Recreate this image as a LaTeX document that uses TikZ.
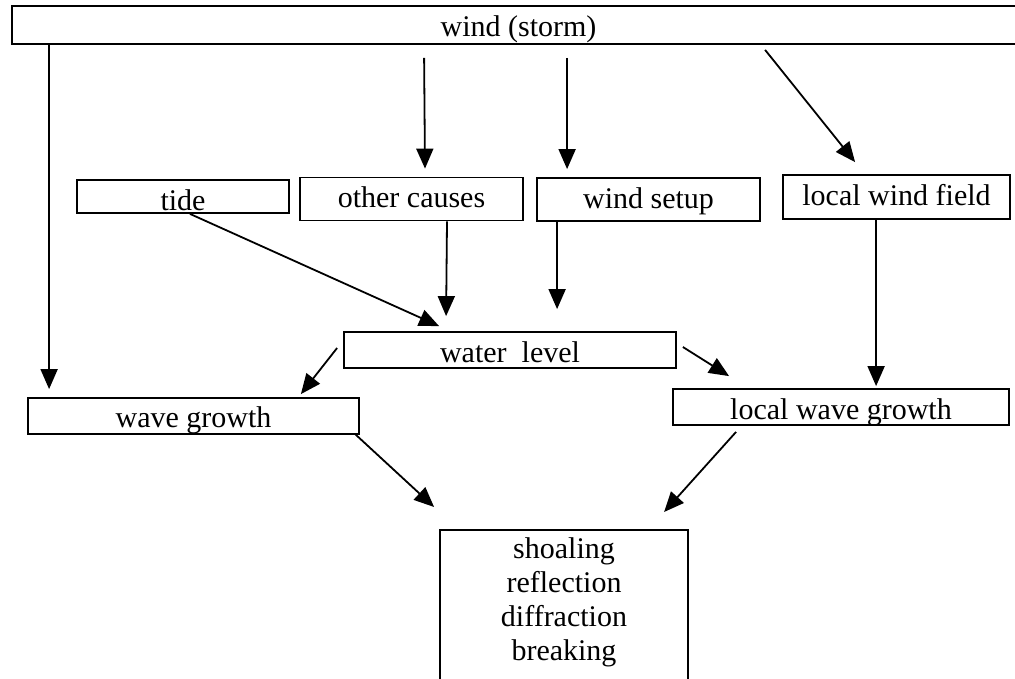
\documentclass[tikz,border=0pt]{standalone}
\usepackage{fontspec}
\setmainfont{Liberation Serif}
\usetikzlibrary{calc,arrows.meta}

\tikzset{
    box/.style={draw, line width=1.8pt, rectangle, inner sep=0pt, text depth=0pt},
    arr/.style={line width=1.8pt, -{Triangle[length=20pt,width=17pt]}}
}

\begin{document}
\begin{tikzpicture}[x=1pt,y=-1pt,font=\fontsize{30}{34}\selectfont]
\useasboundingbox (0,0) rectangle (1015,678);
\node[box, minimum width=1013pt, minimum height=38pt, text height=23pt] (wind) at (518.5,25) {wind (storm)};
\node[box, minimum width=212pt, minimum height=33pt, text height=27pt] (tide) at (183,196.5) {tide};
\node[box, minimum width=223pt, minimum height=43pt, text height=17pt] (other) at (411.5,199) {other causes};
\node[box, minimum width=223pt, minimum height=43pt, text height=17pt] (setup) at (648.5,199.5) {wind setup};
\node[box, minimum width=227pt, minimum height=44pt, text height=17pt] (lwf) at (896.5,197) {local wind field};
\node[box, minimum width=332pt, minimum height=36pt, text height=24pt] (water) at (510,350) {water\ \ level};
\node[box, minimum width=331pt, minimum height=36pt, text height=23pt] (wave) at (193.5,416) {wave growth};
\node[box, minimum width=336pt, minimum height=36pt, text height=24pt] (lwave) at (841,407) {local wave growth};
\node[draw, line width=1.8pt, anchor=north, align=center, minimum width=248pt, inner ysep=8pt, text depth=150pt] (shoal) at (564,529)
    {shoaling\\reflection\\diffraction\\breaking};
\draw[arr] ($(wind.south west)+(38,0)$) -- ($(wave.north west)+(22,-8)$);
\draw[arr] ($(wind.south west)+(413,13)$) -- ($(other.north)+(13.5,-8)$);
\draw[arr] ($(wind.south west)+(556,13)$) -- ($(setup.north west)+(31,-8)$);
\draw[arr] ($(wind.south west)+(754,5)$) -- ($(lwf.north west)+(73,-12)$);
\draw[arr] ($(tide.south)+(7,0)$) -- ($(water.north west)+(96,-5)$);
\draw[arr] ($(other.south)+(35.5,0)$) -- ($(water.north west)+(103,-15)$);
\draw[arr] ($(setup.south west)+(21,0)$) -- ($(water.north west)+(214,-22)$);
\draw[arr] ($(lwf.south west)+(94,0)$) -- ($(lwave.north west)+(204,-2)$);
\draw[arr] ($(water.west)+(-6,-2)$) -- ($(wave.north east)+(-59,-3)$);
\draw[arr] ($(water.east)+(6,-3)$) -- ($(lwave.north west)+(57,-12)$);
\draw[arr] ($(wave.south east)+(-5,-1)$) -- ($(shoal.north west)+(-5,-22)$);
\draw[arr] ($(lwave.south west)+(64,6)$) -- ($(shoal.north west)+(225,-17)$);
\end{tikzpicture}
\end{document}
